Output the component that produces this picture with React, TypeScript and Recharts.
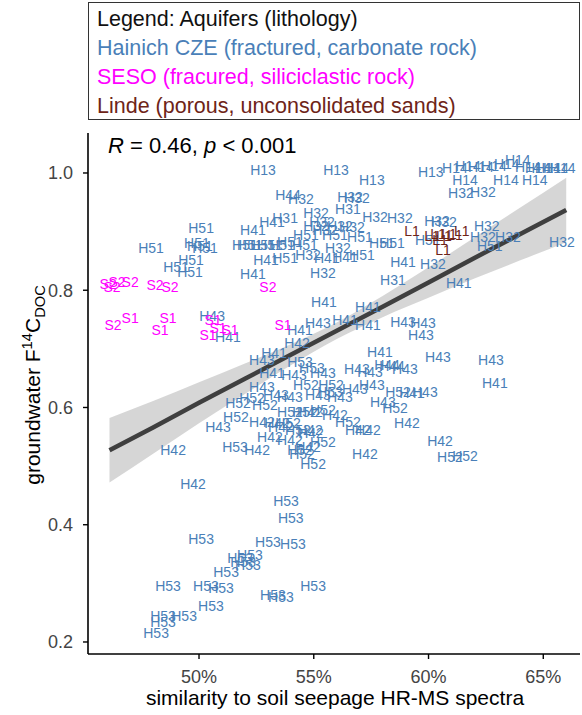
import React from "react";
import { ComposedChart, Scatter, Area, Line, XAxis, YAxis } from "recharts";

type Pt = [number, number];

// [similarity to soil seepage (%), groundwater F14C DOC] per well label
const h13: Pt[] = [[60.1, 1.002], [52.79, 1.005], [55.97, 1.005], [57.53, 0.988]];
const h14: Pt[] = [
  [61.15, 1.009], [61.72, 1.012], [62.28, 1.01], [62.85, 1.012], [63.41, 1.015], [63.89, 1.022],
  [64.33, 1.01], [64.76, 1.009], [65.2, 1.009], [65.55, 1.009], [65.85, 1.009],
  [61.59, 0.988], [63.37, 0.988], [64.63, 0.988],
];
const h31: Pt[] = [[53.75, 0.924], [56.49, 0.939], [58.45, 0.818]];
const h32: Pt[] = [
  [54.44, 0.956], [56.58, 0.959], [56.88, 0.957], [55.1, 0.932], [57.67, 0.925], [58.75, 0.923],
  [55.36, 0.917], [55.1, 0.91], [55.49, 0.903], [56.14, 0.91], [56.66, 0.908], [56.05, 0.872],
  [54.75, 0.86], [55.4, 0.83], [60.19, 0.845], [60.37, 0.918], [60.67, 0.917], [61.41, 0.966],
  [62.37, 0.968], [62.54, 0.91], [62.37, 0.891], [63.46, 0.891], [65.81, 0.882],
];
const h41: Pt[] = [
  [52.35, 0.903], [53.18, 0.917], [52.92, 0.852], [55.57, 0.855], [56.36, 0.857], [52.35, 0.828],
  [58.89, 0.848], [61.32, 0.813], [55.44, 0.78], [57.36, 0.772], [57.36, 0.741], [54.4, 0.733],
  [51.26, 0.721], [53.27, 0.693], [53.18, 0.659], [57.88, 0.695], [59.28, 0.625], [62.89, 0.642],
  [56.36, 0.749],
];
const h42: Pt[] = [
  [49.74, 0.47], [48.87, 0.528], [54.27, 0.71], [59.06, 0.574], [60.5, 0.543], [57.23, 0.52],
  [55.92, 0.588], [54.83, 0.593], [52.74, 0.576], [53.4, 0.574], [54.83, 0.562], [56.92, 0.562],
  [57.36, 0.562], [53.09, 0.549], [52.53, 0.528], [53.96, 0.545], [54.75, 0.533], [54.88, 0.557],
  [53.57, 0.567],
];
const h43: Pt[] = [
  [50.57, 0.756], [55.18, 0.744], [58.89, 0.746], [59.76, 0.744], [59.67, 0.724], [60.41, 0.687],
  [62.72, 0.681], [59.84, 0.627], [52.74, 0.681], [54.14, 0.656], [55.4, 0.659], [56.88, 0.666],
  [57.45, 0.661], [58.97, 0.666], [52.74, 0.635], [53.35, 0.622], [55.18, 0.622], [56.14, 0.618],
  [56.79, 0.632], [57.53, 0.639], [58.01, 0.61], [50.83, 0.567], [53.96, 0.618],
];
const h44: Pt[] = [[53.88, 0.963], [58.19, 0.673], [58.41, 0.67]];
const h51: Pt[] = [
  [50.09, 0.906], [47.91, 0.872], [49.91, 0.881], [50.26, 0.872], [50.04, 0.876], [49.65, 0.852],
  [49.0, 0.84], [49.61, 0.831], [52.0, 0.877], [52.22, 0.877], [52.79, 0.877], [53.09, 0.877],
  [53.61, 0.877], [53.96, 0.882], [54.62, 0.877], [54.66, 0.894], [55.92, 0.894], [57.01, 0.891],
  [57.97, 0.881], [58.41, 0.881], [53.75, 0.855], [57.1, 0.86], [59.97, 0.886], [62.67, 0.876],
];
const h52: Pt[] = [
  [54.66, 0.639], [55.75, 0.639], [52.31, 0.617], [52.87, 0.605], [51.7, 0.608], [53.96, 0.593],
  [54.62, 0.593], [55.4, 0.596], [51.61, 0.583], [53.88, 0.574], [54.31, 0.562], [56.49, 0.576],
  [55.4, 0.542], [54.4, 0.528], [54.49, 0.52], [54.97, 0.504], [58.67, 0.627], [58.54, 0.6],
  [60.93, 0.516], [61.59, 0.518],
];
const h53: Pt[] = [
  [54.4, 0.678], [54.92, 0.668], [55.71, 0.627], [51.57, 0.533], [53.79, 0.44], [54.0, 0.411],
  [50.09, 0.376], [53.0, 0.371], [54.09, 0.368], [52.22, 0.349], [51.79, 0.344], [51.92, 0.337],
  [52.13, 0.332], [51.18, 0.32], [48.65, 0.295], [50.3, 0.295], [50.96, 0.293], [53.22, 0.281],
  [53.57, 0.276], [54.97, 0.295], [50.52, 0.261], [48.43, 0.244], [48.43, 0.235], [49.35, 0.244],
  [48.13, 0.216],
];
const s1: Pt[] = [
  [47.0, 0.753], [48.65, 0.753], [48.3, 0.733], [50.61, 0.75], [50.39, 0.724], [50.83, 0.736],
  [51.35, 0.733], [53.66, 0.741],
];
const s2: Pt[] = [
  [46.25, 0.741], [46.04, 0.811], [46.21, 0.806], [46.43, 0.814], [47.0, 0.814], [48.08, 0.809],
  [48.74, 0.806], [53.0, 0.806],
];
const l1: Pt[] = [
  [59.28, 0.901], [60.15, 0.893], [60.41, 0.896], [60.67, 0.893], [60.89, 0.896], [61.15, 0.894],
  [61.45, 0.901], [60.63, 0.869], [60.5, 0.886],
];

// linear fit with 95% confidence band
const fitX = [46.1, 48, 50, 52, 54, 56, 58, 60, 62, 64, 66];
const fitY = [0.527, 0.566, 0.608, 0.649, 0.69, 0.731, 0.772, 0.813, 0.855, 0.896, 0.937];
const fitLo = [0.472, 0.521, 0.573, 0.623, 0.672, 0.717, 0.754, 0.787, 0.82, 0.851, 0.882];
const fitHi = [0.582, 0.611, 0.643, 0.675, 0.708, 0.745, 0.79, 0.839, 0.89, 0.941, 0.992];

const xTicks = [50, 55, 60, 65];
const yTicks = [0.2, 0.4, 0.6, 0.8, 1.0];

const HAINICH = "#4a7fb8";
const SESO = "#ff00ff";
const LINDE = "#6e2418";
const FONT = "'Liberation Sans', Arial, sans-serif";

const toRows = (groups: [string, Pt[]][]) =>
  groups.flatMap(([label, pts]) => pts.map(([x, y]) => ({ x, y, label })));

const hainich = toRows([
  ["H13", h13], ["H14", h14], ["H31", h31], ["H32", h32], ["H41", h41], ["H42", h42],
  ["H43", h43], ["H44", h44], ["H51", h51], ["H52", h52], ["H53", h53],
]);
const seso = toRows([["S1", s1], ["S2", s2]]);
const linde = toRows([["L1", l1]]);

const fitData = fitX.map((x, i) => ({ x, fit: fitY[i], band: [fitLo[i], fitHi[i]] }));

const labelShape = (color: string) => (props: any) => (
  <text
    x={props.cx}
    y={props.cy}
    dy="0.36em"
    textAnchor="middle"
    fill={color}
    fontSize={14}
    fontFamily={FONT}
  >
    {props.payload.label}
  </text>
);

export default function App() {
  return (
    <div style={{ position: "absolute", left: 0, top: 0, width: 582, height: 715, background: "#fff", fontFamily: FONT }}>
      <ComposedChart
        width={582}
        height={715}
        data={fitData}
        margin={{ top: 133, right: 2, left: 48, bottom: 31 }}
      >
        <XAxis
          type="number"
          dataKey="x"
          domain={[45.163, 66.6]}
          ticks={xTicks}
          tickFormatter={(v: number) => `${v}%`}
          height={30}
          tickSize={5}
          tickMargin={11}
          axisLine={{ stroke: "#000", strokeWidth: 1.6 }}
          tickLine={{ stroke: "#000", strokeWidth: 1.4 }}
          tick={{ fill: "#444", fontSize: 18, fontFamily: FONT }}
        />
        <YAxis
          type="number"
          domain={[0.1795, 1.0682]}
          ticks={yTicks}
          tickFormatter={(v: number) => v.toFixed(1)}
          width={40}
          tickSize={5}
          tickMargin={10}
          axisLine={{ stroke: "#000", strokeWidth: 1.6 }}
          tickLine={{ stroke: "#000", strokeWidth: 1.4 }}
          tick={{ fill: "#444", fontSize: 18, fontFamily: FONT }}
        />
        <Scatter data={hainich} dataKey="y" shape={labelShape(HAINICH)} isAnimationActive={false} />
        <Scatter data={seso} dataKey="y" shape={labelShape(SESO)} isAnimationActive={false} />
        <Scatter data={linde} dataKey="y" shape={labelShape(LINDE)} isAnimationActive={false} />
        <Area
          dataKey="band"
          type="monotone"
          fill="#999999"
          fillOpacity={0.4}
          stroke="none"
          isAnimationActive={false}
          activeDot={false}
        />
        <Line
          dataKey="fit"
          type="linear"
          stroke="#3f3f3f"
          strokeWidth={4.5}
          dot={false}
          activeDot={false}
          isAnimationActive={false}
        />
      </ComposedChart>

      <div
        style={{
          position: "absolute", left: 88, top: 2, width: 482, height: 114,
          border: "1.5px solid #333", fontSize: 21.5, lineHeight: "29px", padding: "2px 0 0 8px",
          boxSizing: "content-box",
        }}
      >
        <div style={{ color: "#111" }}>Legend: Aquifers (lithology)</div>
        <div style={{ color: HAINICH }}>Hainich CZE (fractured, carbonate rock)</div>
        <div style={{ color: SESO }}>SESO (fracured, siliciclastic rock)</div>
        <div style={{ color: LINDE }}>Linde (porous, unconsolidated sands)</div>
      </div>

      <div style={{ position: "absolute", left: 108, top: 134, fontSize: 22, lineHeight: "23px", color: "#000", whiteSpace: "nowrap" }}>
        <i>R</i> = 0.46, <i>p</i> &lt; 0.001
      </div>

      <div
        style={{
          position: "absolute", left: 335, top: 698, transform: "translate(-50%, -50%)",
          fontSize: 21, lineHeight: "22px", color: "#000", whiteSpace: "nowrap",
        }}
      >
        similarity to soil seepage HR-MS spectra
      </div>

      <div
        style={{
          position: "absolute", left: 33, top: 385, transform: "translate(-50%, -50%) rotate(-90deg)",
          fontSize: 21, lineHeight: "22px", color: "#000", whiteSpace: "nowrap",
        }}
      >
        groundwater F<sup style={{ fontSize: "70%", lineHeight: 0 }}>14</sup>C
        <sub style={{ fontSize: "70%", lineHeight: 0 }}>DOC</sub>
      </div>
    </div>
  );
}
